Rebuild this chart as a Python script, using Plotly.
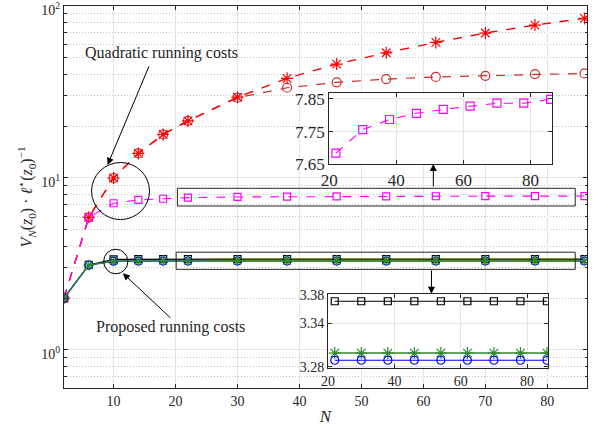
import numpy as np
import plotly.graph_objects as go

N = [2, 6, 10, 14, 18, 22, 30, 38, 46, 54, 62, 70, 78, 86]
quad_star = [2.0, 5.9, 10.0, 13.9, 17.9, 21.5, 29.5, 38.0, 46.0, 53.5, 61.5, 69.7, 77.5, 84.8]
quad_circle = [2.0, 5.9, 10.0, 13.9, 17.9, 21.5, 29.3, 33.5, 36.0, 37.6, 38.7, 39.3, 40.2, 40.6]
quad_square = [2.0, 5.9, 7.13, 7.45, 7.57, 7.684, 7.756, 7.787, 7.806, 7.818, 7.828, 7.837, 7.837, 7.849]
prop_square = [2.0, 3.12, 3.36, 3.368, 3.371, 3.371, 3.371, 3.371, 3.371, 3.371, 3.371, 3.371, 3.371, 3.371]
prop_star = [2.0, 3.11, 3.29, 3.297, 3.299, 3.299, 3.299, 3.299, 3.299, 3.299, 3.299, 3.299, 3.299, 3.299]
prop_circle = [2.0, 3.11, 3.28, 3.287, 3.289, 3.289, 3.289, 3.289, 3.289, 3.289, 3.289, 3.289, 3.289, 3.289]

x_ticks = [10, 20, 30, 40, 50, 60, 70, 80]
y_ticks = [1, 10, 100]
y_ticktext = ["10<sup>0</sup>", "10<sup>1</sup>", "10<sup>2</sup>"]
inset_x_ticks = [20, 40, 60, 80]
inset1_y_ticks = [7.65, 7.75, 7.85]
inset2_y_ticks = [3.28, 3.34, 3.38]
inset_from = 22

FONT = "Liberation Serif, Times New Roman, serif"
RED = "#ff0000"
DRED = "#d02c2c"
MAG = "#ff00ff"
GREEN = "#2f8a2f"
BLUE = "#0000ff"
INK = "#262626"

Ni = [n for n in N if n >= inset_from]
def sub(a):
    return [v for n, v in zip(N, a) if n >= inset_from]

fig = go.Figure()

def add(x, y, color, symbol, size, dash, xa="x", ya="y", lw=1.2, mlw=1.2):
    fig.add_trace(go.Scatter(
        x=x, y=y, mode="lines+markers", xaxis=xa, yaxis=ya,
        line=dict(color=color, width=lw, dash=dash),
        marker=dict(symbol=symbol, size=size, color=color, line=dict(color=color, width=mlw)),
        showlegend=False, hoverinfo="skip"))

# main traces
add(N, quad_circle, DRED, "circle-open", 9, "dash")
add(N, quad_star, RED, "asterisk-open", 10, "dash", lw=1.4)
add(N, quad_square, MAG, "square-open", 7, "dash", lw=1.1)
add(N, prop_square, "black", "square-open", 7, "solid")
add(N, prop_circle, BLUE, "circle-open", 8, "solid")
add(N, prop_star, GREEN, "asterisk-open", 9, "solid", lw=1.4)

# inset 1
add(Ni, sub(quad_square), MAG, "square-open", 8, "dash", "x2", "y2", lw=1.1)
# inset 2
add(Ni, sub(prop_square), "black", "square-open", 7, "solid", "x3", "y3")
add(Ni, sub(prop_star), GREEN, "asterisk-open", 10, "solid", "x3", "y3", lw=1.4)
add(Ni, sub(prop_circle), BLUE, "circle-open", 8, "solid", "x3", "y3")

axcommon = dict(showline=True, linecolor=INK, linewidth=1, mirror="allticks",
                ticks="inside", ticklen=4, tickcolor=INK, zeroline=False,
                gridcolor="#e3e3e3", gridwidth=1, automargin=False,
                ticklabeloverflow="allow")

fig.update_layout(
    width=597, height=431,
    margin=dict(l=64, r=10, t=6, b=43, autoexpand=False),
    paper_bgcolor="white", plot_bgcolor="white",
    font=dict(family=FONT, size=14, color=INK),
    xaxis=dict(range=[2, 86.4], tickvals=x_ticks, domain=[0, 1],
               title=dict(text="<i>N</i>", font=dict(size=17, family=FONT), standoff=2),
               tickfont=dict(size=14, family=FONT), **axcommon),
    yaxis=dict(type="log", range=[np.log10(0.6), 2.0005], tickvals=y_ticks, ticktext=y_ticktext,
               domain=[0, 1], tickfont=dict(size=14, family=FONT), ticklabelshift=4,
               title=dict(text="<i>V<sub>N</sub></i>(<i>z</i><sub>0</sub>) · <i>ℓ</i><sup>⋆</sup>(<i>z</i><sub>0</sub>)<sup>−1</sup>",
                          font=dict(size=16, family=FONT), standoff=4),
               minor=dict(dtick="D1", ticks="inside", ticklen=2.5, tickcolor=INK,
                          showgrid=True, griddash="1px,2px", gridcolor="#c4c4c4"),
               **axcommon),
    xaxis2=dict(domain=[0.507, 0.933], anchor="y2", range=[20, 86.4], tickvals=inset_x_ticks,
                tickfont=dict(size=17, family=FONT), **axcommon),
    yaxis2=dict(domain=[0.586, 0.772], anchor="x2", range=[7.65, 7.868], tickvals=inset1_y_ticks,
                tickformat=".2f", tickfont=dict(size=17, family=FONT), **axcommon),
    xaxis3=dict(domain=[0.505, 0.926], anchor="y3", range=[20, 86.4], tickvals=inset_x_ticks,
                tickfont=dict(size=14, family=FONT), **axcommon),
    yaxis3=dict(domain=[0.053, 0.246], anchor="x3", range=[3.2786, 3.381], tickvals=inset2_y_ticks,
                tickformat=".2f", tickfont=dict(size=14, family=FONT), **axcommon),
)

shapes = []
for i in ("2", "3"):
    shapes.append(dict(type="rect", xref=f"x{i} domain", yref=f"y{i} domain", x0=0, x1=1, y0=0, y1=1,
                       fillcolor="#e6e6e6", line=dict(width=0), layer="below"))
# zoom rectangles on main axes
shapes.append(dict(type="rect", xref="x", yref="y", x0=20.3, x1=84.5, y0=6.87, y1=8.71,
                   line=dict(color=INK, width=1)))
shapes.append(dict(type="rect", xref="x", yref="y", x0=20.1, x1=84.5, y0=2.94, y1=3.70,
                   line=dict(color=INK, width=1)))
# highlight circles
shapes.append(dict(type="circle", xref="x", yref="y", x0=6.45, x1=15.8, y0=5.73, y1=12.3,
                   line=dict(color="black", width=1)))
shapes.append(dict(type="circle", xref="x", yref="y", x0=8.4, x1=12.3, y0=2.77, y1=3.85,
                   line=dict(color="black", width=1)))
fig.update_layout(shapes=shapes)

ann = []
ann.append(dict(x=17.7, y=1.727, xref="x", yref="y", text="Quadratic running costs",
                showarrow=False, font=dict(size=16, color=INK, family=FONT)))
ann.append(dict(x=19.2, y=0.135, xref="x", yref="y", text="Proposed running costs",
                showarrow=False, font=dict(size=16, color=INK, family=FONT)))
arrow = dict(text="", showarrow=True, arrowhead=2, arrowsize=1.4, arrowwidth=1,
             arrowcolor="black", standoff=0, xref="x", yref="y")
ann.append(dict(x=9.03, y=1.076, ax=42, ay=-100, **arrow))
ann.append(dict(x=11.5, y=0.446, ax=49, ay=46, **arrow))
ann.append(dict(x=61.6, y=1.081, ax=0, ay=24, **arrow))
ann.append(dict(x=61.3, y=0.326, ax=0, ay=-25, **arrow))
fig.update_layout(annotations=ann)

fig.write_html("out.html", config={"displayModeBar": False},
               post_script="document.body.style.margin='0';document.body.style.padding='0';")
